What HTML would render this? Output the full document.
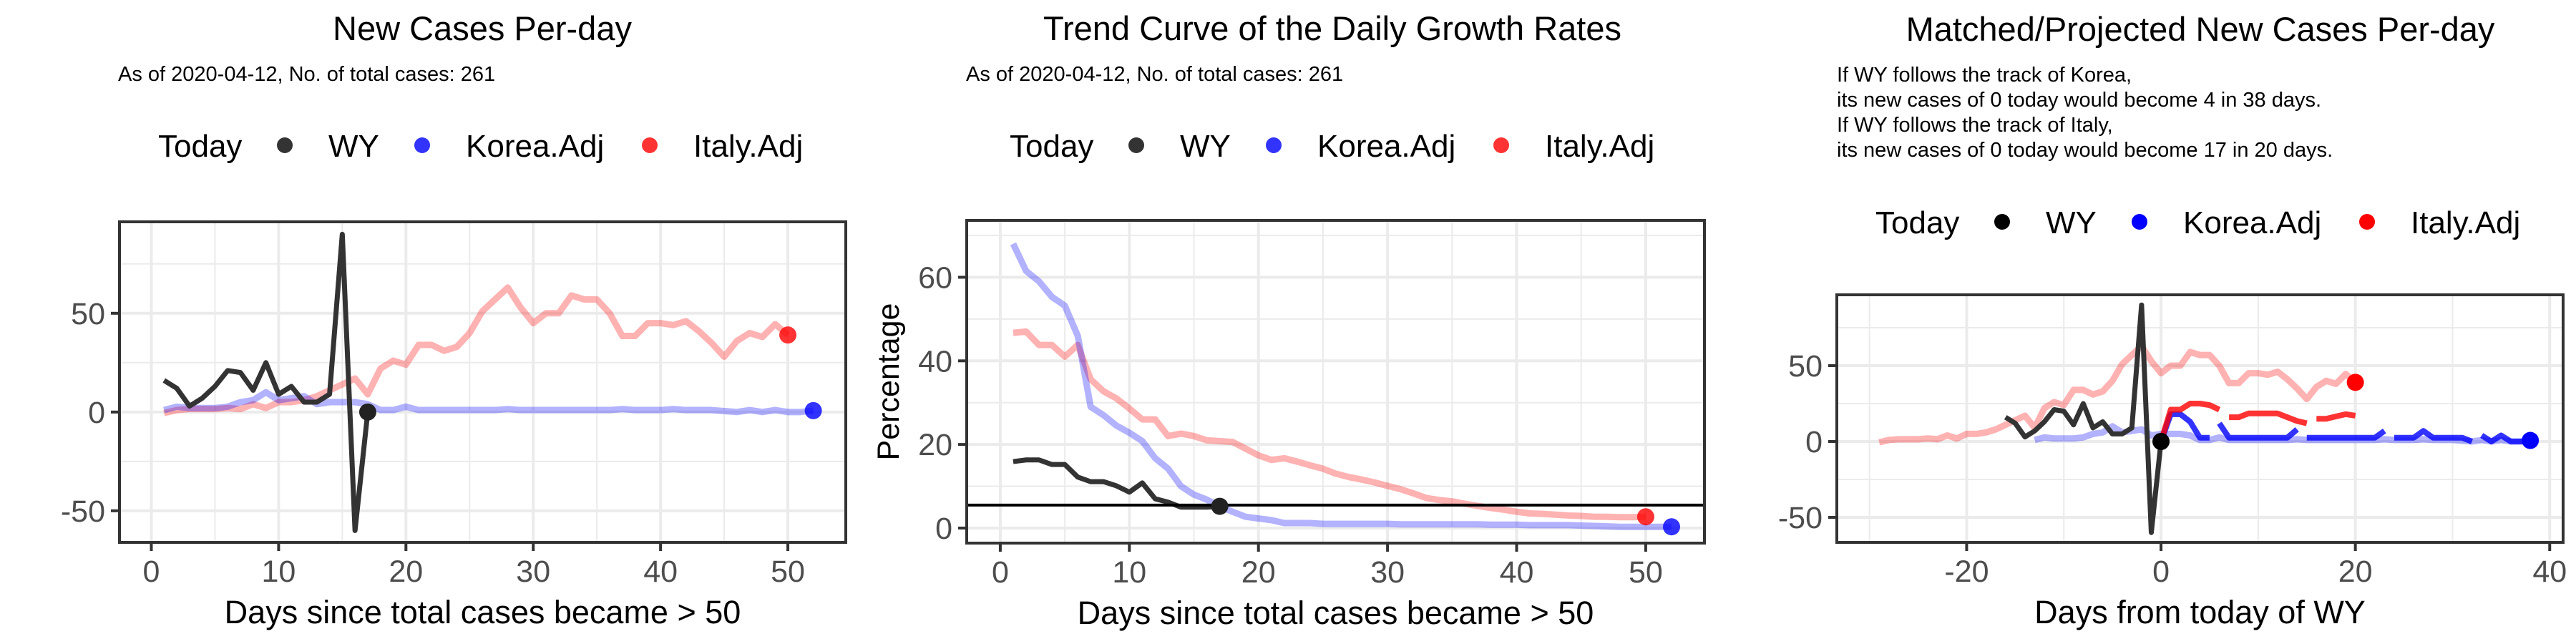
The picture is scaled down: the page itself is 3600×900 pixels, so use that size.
<!DOCTYPE html>
<html><head><meta charset="utf-8">
<style>
html,body{margin:0;padding:0;background:#fff;}
svg{display:block;font-family:"Liberation Sans",sans-serif;}
</style></head>
<body>
<svg id="chart" width="3600" height="900" viewBox="0 0 3600 900" xmlns="http://www.w3.org/2000/svg">
<rect width="3600" height="900" fill="#fff"/>
<g id="texts">
<text x="674" y="56" font-size="47" text-anchor="middle">New Cases Per-day</text>
<text x="165" y="113" font-size="29">As of 2020-04-12, No. of total cases: 261</text>
<text x="1862" y="56" font-size="47" text-anchor="middle">Trend Curve of the Daily Growth Rates</text>
<text x="1350" y="113" font-size="29">As of 2020-04-12, No. of total cases: 261</text>
<text x="3075" y="57" font-size="47" text-anchor="middle">Matched/Projected New Cases Per-day</text>
<g font-size="29">
<text x="2567" y="114">If WY follows the track of Korea,</text>
<text x="2567" y="149">its new cases of 0 today would become 4 in 38 days.</text>
<text x="2567" y="184">If WY follows the track of Italy,</text>
<text x="2567" y="219">its new cases of 0 today would become 17 in 20 days.</text>
</g>
</g>
</svg>
<script>
// ---- data ----
const wyNew = [16,12,3,7,13,21,20,11,25,9,13,5,5,9,90,-60,0];
const koreaNew = [1,2.7,2,2,2,2.7,5,6,10,6,7,8,4,5,5,5,4,1,1,2.7,1,1,1,1,1,1,1,1.5,1,1,1,1,1,1,1,1,1.5,1,1,1,1.5,1,1,1,0.5,0,1,0,1,0,0,0.7];
const italyNew = [-0.5,1,1.5,1.5,1.5,2,1.5,4,2,5,5,6,8,11,14,17,9,22,26,24,34,34,31,33,40,51,57,63,53,45,50,50,59,57,57,50,38.5,38.5,45,45,44,46,41,35,28,36,40,38,44.5,39];
const wyRate = [15.9,16.3,16.3,15.2,15.2,12.2,11.1,11.1,10.1,8.6,10.8,7,6.2,5,5,5,5.2];
const koreaRate = [68,61.5,59,55.3,53.2,46,29,27,24.5,22.8,20.8,16.7,14.2,10,8,6.8,5.2,3.9,2.7,2.3,1.9,1.2,1.2,1.2,1,1,1,1,1,1,0.9,0.9,0.9,0.9,0.9,0.9,0.9,0.8,0.8,0.8,0.7,0.7,0.7,0.7,0.6,0.5,0.4,0.3,0.3,0.3,0.3,0.3];
const italyRate = [46.7,47,43.8,43.8,41,43.8,35.6,32.7,31,28.6,26,26,22,22.6,22,21,20.8,20.6,19,17.4,16.3,16.7,15.9,15,14.2,13,12.2,11.6,10.9,10.1,9.3,8.3,7.2,6.7,6.4,5.8,5.3,4.8,4.4,3.9,3.5,3.4,3.2,3,2.9,2.7,2.7,2.6,2.6,2.7];
const threshold = 5.5;
const koreaProj = [0,18,18,13,2.5,2.5,12,2.5,2.5,2.5,2.5,2.5,2.5,2.5,8,2.5,2.5,2.5,2.5,2.5,2.5,2.5,2.5,7,2.5,2.5,2.5,7,2.5,2.5,2.5,2.5,0,4,0,4,0,0,0];
const koreaProjBreaks = [5,14,23,32];
const italyProj = [0,21,21,25,25,24,21,16,16,18.5,18.5,18.5,18.5,16,13.5,12,15,15,16.5,18,17];
const italyProjBreaks = [6,15];
const wyOffset = -17, koreaOffset = -14, italyOffset = -30;
const legendLabels = ["WY","Korea.Adj","Italy.Adj"];

const NS="http://www.w3.org/2000/svg";
const svg=document.getElementById('chart');
function el(tag,attrs,parent){const e=document.createElementNS(NS,tag);for(const k in attrs)e.setAttribute(k,attrs[k]);(parent||svg).appendChild(e);return e;}

function panel(cfg){
  const g=el('g',{});
  
  
  const L=cfg.L,R=cfg.R,T=cfg.T,B=cfg.B;
  const sx=v=>L+(v-cfg.xmin)/(cfg.xmax-cfg.xmin)*(R-L);
  const sy=v=>B-(v-cfg.ymin)/(cfg.ymax-cfg.ymin)*(B-T);
  cfg.xminor.forEach(v=>el('line',{x1:sx(v),x2:sx(v),y1:T,y2:B,stroke:'#ebebeb','stroke-width':2},g));
  cfg.yminor.forEach(v=>el('line',{x1:L,x2:R,y1:sy(v),y2:sy(v),stroke:'#ebebeb','stroke-width':2},g));
  cfg.xmajor.forEach(v=>el('line',{x1:sx(v),x2:sx(v),y1:T,y2:B,stroke:'#ebebeb','stroke-width':4},g));
  cfg.ymajor.forEach(v=>el('line',{x1:L,x2:R,y1:sy(v),y2:sy(v),stroke:'#ebebeb','stroke-width':4},g));
  function line(xs,ys,color,w,name,breaks){
    let segs=[[]];
    xs.forEach((x,i)=>{segs[segs.length-1].push([sx(x),sy(ys[i])]);if(breaks&&breaks.includes(i))segs.push([]);});
    segs.forEach(s=>{if(s.length<2)return;
      const p=el('polyline',{points:s.map(q=>q.join(',')).join(' '),fill:'none',stroke:color,'stroke-width':w,'stroke-linejoin':'round'},g);
      
      });
  }
  cfg.series.forEach(s=>line(s.x,s.y,s.color,s.w,s.name,s.breaks));
  if(cfg.hline!==undefined){const h=el('line',{x1:L,x2:R,y1:sy(cfg.hline),y2:sy(cfg.hline),stroke:'#000','stroke-width':4},g);
    
    }
  cfg.dots.forEach(d=>{const c=el('circle',{cx:sx(d.x),cy:sy(d.y),r:12,fill:d.color},g);
    
    });
  el('rect',{x:L,y:T,width:R-L,height:B-T,fill:'none',stroke:'#333','stroke-width':4},g);
  cfg.xmajor.forEach(v=>{el('line',{x1:sx(v),x2:sx(v),y1:B,y2:B+12,stroke:'#333','stroke-width':4},g);
    const t=el('text',{x:sx(v),y:B+55,'font-size':43,'text-anchor':'middle',fill:'#4d4d4d'},g);t.textContent=v;
    
    });
  cfg.ymajor.forEach(v=>{el('line',{x1:L-12,x2:L,y1:sy(v),y2:sy(v),stroke:'#333','stroke-width':4},g);
    const t=el('text',{x:L-20,y:sy(v)+15,'font-size':43,'text-anchor':'end',fill:'#4d4d4d'},g);t.textContent=v;
    
    });
  const xt=el('text',{x:(L+R)/2,y:B+113,'font-size':45,'text-anchor':'middle'},g);xt.textContent=cfg.xtitle;
  
  
  if(cfg.ytitle){const yt=el('text',{x:0,y:0,'font-size':43,'text-anchor':'middle',transform:`translate(1256,${(T+B)/2}) rotate(-90)`},g);yt.textContent=cfg.ytitle;
    
    }
  const lg=el('g',{},g);
  
  
  const ox=cfg.legX, by=cfg.legY;
  const t0=el('text',{x:ox,y:by,'font-size':44},lg);t0.textContent='Today';
  const offs=[[177,238],[369,430],[687,748]];
  cfg.legColors.forEach((c,i)=>{
    const d=el('circle',{cx:ox+offs[i][0],cy:by-16,r:11,fill:c},lg);
    
    
    const t=el('text',{x:ox+offs[i][1],y:by,'font-size':44},lg);t.textContent=legendLabels[i];
    
    
  });
}
const idx=(a,off)=>a.map((_,i)=>i+1+off);
const pale=['rgba(51,51,51,1)','rgba(0,0,255,0.3)','rgba(255,0,0,0.3)'];
const legC=['#333','rgba(0,0,255,0.8)','rgba(255,0,0,0.8)'];

panel({name:'new-cases-panel',L:167,R:1182,T:310,B:758,xmin:-2.5,xmax:54.55,ymin:-66,ymax:96.3,
  xmajor:[0,10,20,30,40,50],xminor:[5,15,25,35,45],ymajor:[-50,0,50],yminor:[-25,25,75],
  xtitle:'Days since total cases became > 50',legX:221,legY:219,legColors:legC,
  series:[{x:idx(italyNew,0),y:italyNew,color:pale[2],w:9,name:'italy-line'},
          {x:idx(koreaNew,0),y:koreaNew,color:pale[1],w:9,name:'korea-line'},
          {x:idx(wyNew,0),y:wyNew,color:'#333',w:7,name:'wy-line'}],
  dots:[{x:italyNew.length,y:italyNew[italyNew.length-1],color:'rgba(255,0,0,0.8)',name:'italy-today-dot'},
        {x:koreaNew.length,y:koreaNew[koreaNew.length-1],color:'rgba(0,0,255,0.8)',name:'korea-today-dot'},
        {x:wyNew.length,y:wyNew[wyNew.length-1],color:'#222',name:'wy-today-dot'}]});

panel({name:'growth-rate-panel',L:1351,R:2382,T:308,B:759,xmin:-2.6,xmax:54.55,ymin:-3.6,ymax:73.6,
  xmajor:[0,10,20,30,40,50],xminor:[5,15,25,35,45],ymajor:[0,20,40,60],yminor:[10,30,50,70],
  xtitle:'Days since total cases became > 50',ytitle:'Percentage',legX:1411,legY:219,legColors:legC,hline:threshold,
  series:[{x:idx(italyRate,0),y:italyRate,color:pale[2],w:9,name:'italy-rate-line'},
          {x:idx(koreaRate,0),y:koreaRate,color:pale[1],w:9,name:'korea-rate-line'},
          {x:idx(wyRate,0),y:wyRate,color:'#333',w:7,name:'wy-rate-line'}],
  dots:[{x:italyRate.length,y:italyRate[italyRate.length-1],color:'rgba(255,0,0,0.8)',name:'italy-today-dot'},
        {x:koreaRate.length,y:koreaRate[koreaRate.length-1],color:'rgba(0,0,255,0.8)',name:'korea-today-dot'},
        {x:wyRate.length,y:wyRate[wyRate.length-1],color:'#222',name:'wy-today-dot'}]});

panel({name:'projection-panel',L:2567,R:3582,T:412,B:758,xmin:-33.36,xmax:41.38,ymin:-66.5,ymax:96.7,
  xmajor:[-20,0,20,40],xminor:[-30,-10,10,30],ymajor:[-50,0,50],yminor:[-25,25,75],
  xtitle:'Days from today of WY',legX:2621,legY:326,legColors:['#000','#00f','#f00'],
  series:[{x:idx(italyNew,italyOffset),y:italyNew,color:pale[2],w:9,name:'italy-history-line'},
          {x:idx(koreaNew,koreaOffset),y:koreaNew,color:pale[1],w:9,name:'korea-history-line'},
          {x:idx(wyNew,wyOffset),y:wyNew,color:'#333',w:7,name:'wy-line'},
          {x:koreaProj.map((_,i)=>i),y:koreaProj,color:'rgba(0,0,255,0.8)',w:8,name:'korea-projection-line',breaks:koreaProjBreaks},
          {x:italyProj.map((_,i)=>i),y:italyProj,color:'rgba(255,0,0,0.8)',w:8,name:'italy-projection-line',breaks:italyProjBreaks}],
  dots:[{x:italyNew.length+italyOffset,y:italyNew[italyNew.length-1],color:'#f00',name:'italy-today-dot'},
        {x:koreaNew.length+koreaOffset,y:koreaNew[koreaNew.length-1],color:'#00f',name:'korea-today-dot'},
        {x:0,y:wyNew[wyNew.length-1],color:'#000',name:'wy-today-dot'}]});
</script>
</body></html>
